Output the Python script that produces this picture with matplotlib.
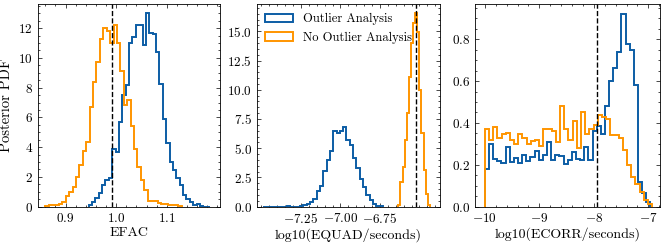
import matplotlib
matplotlib.use("Agg")
import matplotlib.pyplot as plt
import numpy as np

# histogram heights (density), with bin ranges
efac_out_range = (0.9454, 1.1856)
efac_out = [0.1, 0.34, 0.56, 0.94, 1.46, 1.8, 1.9, 3.86, 3.7, 5.7,
            7.5, 8.2, 11.0, 11.43, 12.2, 12.2, 10.9, 13.0, 11.7, 11.6,
            10.4, 8.25, 5.9, 4.26, 3.0, 2.47, 1.9, 1.46, 0.79, 0.5,
            0.34, 0.1, 0.2, 0.02, 0.0, 0.0]
efac_noout_range = (0.860, 1.1296)
efac_noout = [0.05, 0.08, 0.1, 0.12, 0.15, 0.3, 0.72, 0.97, 1.35, 2.0,
              2.8, 3.77, 4.37, 6.7, 8.4, 9.75, 11.25, 12.0, 11.8, 11.0,
              12.2, 11.0, 9.1, 6.85, 7.2, 5.4, 3.9, 2.7, 1.8, 1.15,
              0.4, 0.35, 0.4, 0.25, 0.2, 0.15, 0.12, 0.1, 0.08, 0.05]

equad_out_range = (-7.487, -6.731)
equad_out = [0, 0, 0, 0, 0, 0, 0, 0.05, 0, 0,
             0, 0.02, 0.1, 0.2, 0.43, 0.63, 1.35, 1.8, 3.06, 4.0,
             4.8, 6.5, 6.3, 6.5, 6.8, 5.7, 5.3, 4.2, 3.3, 2.4,
             1.7, 1.0, 0.57, 0.2, 0.05, 0.02]
equad_noout_range = (-6.634, -6.434)
equad_noout = [0.1, 2.1, 3.4, 5.7, 8.0, 11.1, 14.0, 15.7, 16.6, 14.9,
               10.0, 6.3, 3.1, 1.1, 0.1]

ecorr_out_range = (-10.0, -6.96)
ecorr_out = [0.178, 0.30, 0.226, 0.22, 0.207, 0.283, 0.215, 0.234, 0.207, 0.247,
             0.22, 0.239, 0.267, 0.223, 0.247, 0.31, 0.223, 0.247, 0.243, 0.204,
             0.223, 0.262, 0.23, 0.223, 0.283, 0.223, 0.36, 0.385, 0.345, 0.48,
             0.60, 0.66, 0.74, 0.92, 0.775, 0.75, 0.58, 0.12, 0.065, 0.02]
ecorr_noout_range = (-10.0, -6.93)
ecorr_noout = [0.37, 0.32, 0.38, 0.33, 0.345, 0.35, 0.318, 0.30, 0.345, 0.33,
               0.30, 0.315, 0.32, 0.29, 0.37, 0.37, 0.36, 0.31, 0.48, 0.37,
               0.32, 0.41, 0.28, 0.45, 0.345, 0.37, 0.39, 0.44, 0.43, 0.42,
               0.34, 0.34, 0.33, 0.27, 0.20, 0.14, 0.11, 0.07, 0.03, 0.015]

# reference (injected) values, dashed lines
truth = [0.992, -6.524, -7.95]
xlabels = ["EFAC", "log10(EQUAD/seconds)", "log10(ECORR/seconds)"]
labels = ["Outlier Analysis", "No Outlier Analysis"]
xlims = [(0.845, 1.205), (-7.53, -6.37), (-10.18, -6.785)]
ylims = [(0, 13.6), (0, 17.3), (0, 0.966)]

plt.rcParams.update({
    "font.family": "cmr10",
    "mathtext.fontset": "cm",
    "axes.formatter.use_mathtext": True,
    "font.size": 9.5,
    "axes.linewidth": 0.6,
    "xtick.direction": "in",
    "ytick.direction": "in",
    "xtick.top": True,
    "ytick.right": True,
    "xtick.minor.visible": True,
    "ytick.minor.visible": True,
    "xtick.major.size": 3,
    "ytick.major.size": 3,
    "xtick.minor.size": 1.5,
    "ytick.minor.size": 1.5,
    "xtick.major.width": 0.5,
    "ytick.major.width": 0.5,
    "xtick.minor.width": 0.5,
    "ytick.minor.width": 0.5,
    "xtick.labelsize": 9.5,
    "ytick.labelsize": 9.5,
})

blue = "#0C5DA5"
orange = "#FF9500"

fig = plt.figure(figsize=(6.64, 2.44), dpi=100)
lefts = [0.0568, 0.3866, 0.7154]
widths = [0.2744, 0.2761, 0.2786]

panels = [
    (efac_out_range, efac_out, efac_noout_range, efac_noout),
    (equad_out_range, equad_out, equad_noout_range, equad_noout),
    (ecorr_out_range, ecorr_out, ecorr_noout_range, ecorr_noout),
]

for i, (r1, v1, r2, v2) in enumerate(panels):
    ax = fig.add_axes([lefts[i], 0.153, widths[i], 0.829])
    e1 = np.linspace(r1[0], r1[1], len(v1) + 1)
    e2 = np.linspace(r2[0], r2[1], len(v2) + 1)
    ax.hist(e1[:-1], bins=e1, weights=v1, histtype="step", color=blue,
            lw=1.4, label=labels[0])
    ax.hist(e2[:-1], bins=e2, weights=v2, histtype="step", color=orange,
            lw=1.4, label=labels[1])
    ax.axvline(truth[i], color="k", ls="--", lw=1.0)
    ax.set_xlim(*xlims[i])
    ax.set_ylim(*ylims[i])
    ax.set_xlabel(xlabels[i], fontsize=10, labelpad=1.5)
    if i == 0:
        ax.set_ylabel("Posterior PDF", fontsize=10.5)
        ax.set_xticks([0.9, 1.0, 1.1])
    if i == 1:
        ax.set_xticks([-7.25, -7.0, -6.75])
        ax.set_yticks([0, 2.5, 5, 7.5, 10, 12.5, 15])
        ax.legend(loc="upper left", frameon=False, fontsize=9,
                  handlelength=2.2, borderaxespad=0.3)
    if i == 2:
        ax.set_xticks([-10, -9, -8, -7])

fig.savefig("out.png", dpi=100)
